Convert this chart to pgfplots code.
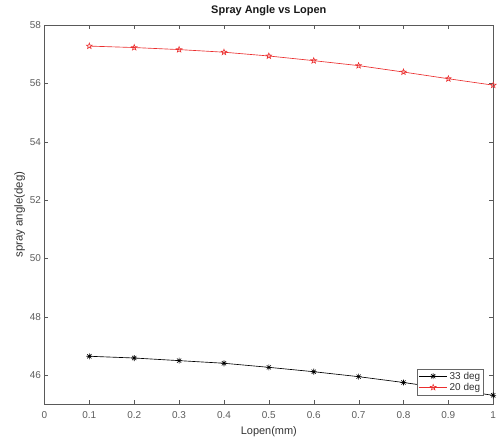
\documentclass[border={11pt 0pt 0pt 2pt}]{standalone}
\usepackage{fontspec}
\setmainfont{Liberation Sans}
\usepackage{pgfplots}
\pgfplotsset{compat=1.18}
\definecolor{mred}{rgb}{0.92,0.18,0.18}
\definecolor{tickgray}{rgb}{0.36,0.36,0.36}
\pgfdeclareplotmark{pentagram}{%
  \pgfpathmoveto{\pgfpointpolar{90}{\pgfplotmarksize}}%
  \pgfpathlineto{\pgfpointpolar{126}{0.42\pgfplotmarksize}}%
  \pgfpathlineto{\pgfpointpolar{162}{\pgfplotmarksize}}%
  \pgfpathlineto{\pgfpointpolar{198}{0.42\pgfplotmarksize}}%
  \pgfpathlineto{\pgfpointpolar{234}{\pgfplotmarksize}}%
  \pgfpathlineto{\pgfpointpolar{270}{0.42\pgfplotmarksize}}%
  \pgfpathlineto{\pgfpointpolar{306}{\pgfplotmarksize}}%
  \pgfpathlineto{\pgfpointpolar{342}{0.42\pgfplotmarksize}}%
  \pgfpathlineto{\pgfpointpolar{18}{\pgfplotmarksize}}%
  \pgfpathlineto{\pgfpointpolar{54}{0.42\pgfplotmarksize}}%
  \pgfpathclose
  \pgfusepathqstroke
}
\pgfdeclareplotmark{mstar}{%
  \pgfpathmoveto{\pgfqpoint{0pt}{\pgfplotmarksize}}%
  \pgfpathlineto{\pgfqpoint{0pt}{-\pgfplotmarksize}}%
  \pgfpathmoveto{\pgfqpoint{\pgfplotmarksize}{0pt}}%
  \pgfpathlineto{\pgfqpoint{-\pgfplotmarksize}{0pt}}%
  \pgfpathmoveto{\pgfpointpolar{45}{\pgfplotmarksize}}%
  \pgfpathlineto{\pgfpointpolar{225}{\pgfplotmarksize}}%
  \pgfpathmoveto{\pgfpointpolar{135}{\pgfplotmarksize}}%
  \pgfpathlineto{\pgfpointpolar{315}{\pgfplotmarksize}}%
  \pgfusepathqstroke
}
\begin{document}
\begin{tikzpicture}
\begin{axis}[
  scale only axis,
  width=450pt, height=380pt,
  xmin=0, xmax=1, ymin=45, ymax=58,
  xtick={0,0.1,0.2,0.3,0.4,0.5,0.6,0.7,0.8,0.9,1},
  xticklabels={0,0.1,0.2,0.3,0.4,0.5,0.6,0.7,0.8,0.9,1},
  ytick={46,48,50,52,54,56,58},
  /pgf/number format/assume math mode=true,
  tick label style={font=\fontsize{10}{12}\selectfont, text=tickgray},
  xticklabel style={inner sep=1pt, yshift=-6pt},
  xlabel style={font=\fontsize{11}{13}\selectfont, text=black!80, yshift=-4pt},
  ylabel style={font=\fontsize{11.5}{13}\selectfont, text=black!80, yshift=-2pt},
  axis line style={black!65},
  tick style={black!65},
  major tick length=4pt,
  title={\textbf{Spray Angle vs Lopen}},
  title style={font=\fontsize{11}{13}\selectfont, text=black!90},
  xlabel={Lopen(mm)},
  ylabel={spray angle(deg)},
  legend style={font=\fontsize{10}{11}\selectfont, draw=black!60, inner sep=1pt, row sep=-1.5pt,
    at={(0.978,0.024)}, anchor=south east, text=black!80},
  legend cell align=left,
  legend image code/.code={%
    \draw[mark repeat=2,mark phase=2,#1] plot coordinates {(0cm,0cm) (0.5cm,0cm) (1.0cm,0cm)};},
  every axis plot/.append style={line width=0.65pt, mark size=3pt},
]
\addplot[black, mark=mstar, mark options={line width=0.6pt}] coordinates {
 (0.1,46.64) (0.2,46.58) (0.3,46.49) (0.4,46.40) (0.5,46.26)
 (0.6,46.11) (0.7,45.94) (0.8,45.74) (0.9,45.52) (1.0,45.30)
};
\addlegendentry{33 deg}
\addplot[mred, mark=pentagram, mark options={line width=0.6pt}] coordinates {
 (0.1,57.28) (0.2,57.23) (0.3,57.16) (0.4,57.07) (0.5,56.94)
 (0.6,56.78) (0.7,56.61) (0.8,56.39) (0.9,56.16) (1.0,55.94)
};
\addlegendentry{20 deg}
\end{axis}
\end{tikzpicture}
\end{document}
